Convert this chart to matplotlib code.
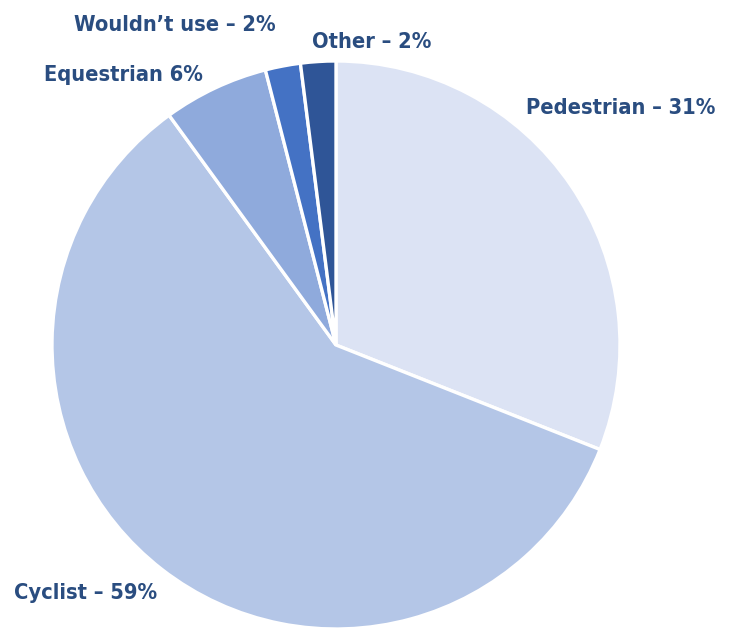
import matplotlib
matplotlib.use("Agg")
import matplotlib.pyplot as plt
from matplotlib import font_manager

categories = ["Pedestrian", "Cyclist", "Equestrian", "Wouldn't use", "Other"]
values = [31, 59, 6, 2, 2]
label_texts = ["Pedestrian – 31%", "Cyclist – 59%", "Equestrian 6%", "Wouldn’t use – 2%", "Other – 2%"]
colors = ["#dce3f4", "#b4c6e7", "#8faadc", "#4472c4", "#2f5597"]

W, H = 735, 628
fig = plt.figure(figsize=(W / 100, H / 100), dpi=100)
ax = fig.add_axes([0, 0, 1, 1])

cx, cy_px, r = 336, 345, 284
ax.pie(values, colors=colors, startangle=90, counterclock=False,
       center=(cx, H - cy_px), radius=r,
       wedgeprops=dict(edgecolor="white", linewidth=2.4), frame=True)
ax.set_xlim(0, W)
ax.set_ylim(0, H)
ax.set_aspect("equal")
ax.axis("off")

# label boxes: (left, right, centre y) in pixels
label_box = [(525, 717, 108), (12, 160, 593), (47, 200, 75), (73, 277, 25), (313, 430, 42)]
texts = []
for txt, (x0, x1, y) in zip(label_texts, label_box):
    t = ax.text((x0 + x1) / 2, H - y, txt, ha="center", va="center", fontsize=20,
                fontweight="bold", fontstretch="condensed", color="#2a4d80",
                family=["DejaVu Sans"])
    texts.append(t)

fig.canvas.draw()
rend = fig.canvas.get_renderer()
ratios = []
for t, (x0, x1, y) in zip(texts, label_box):
    w = t.get_window_extent(rend).width
    ratios.append((x1 - x0) / w)
size = 20 * sum(ratios) / len(ratios)
for t in texts:
    t.set_fontsize(size)

fig.savefig("out.png", dpi=100)
